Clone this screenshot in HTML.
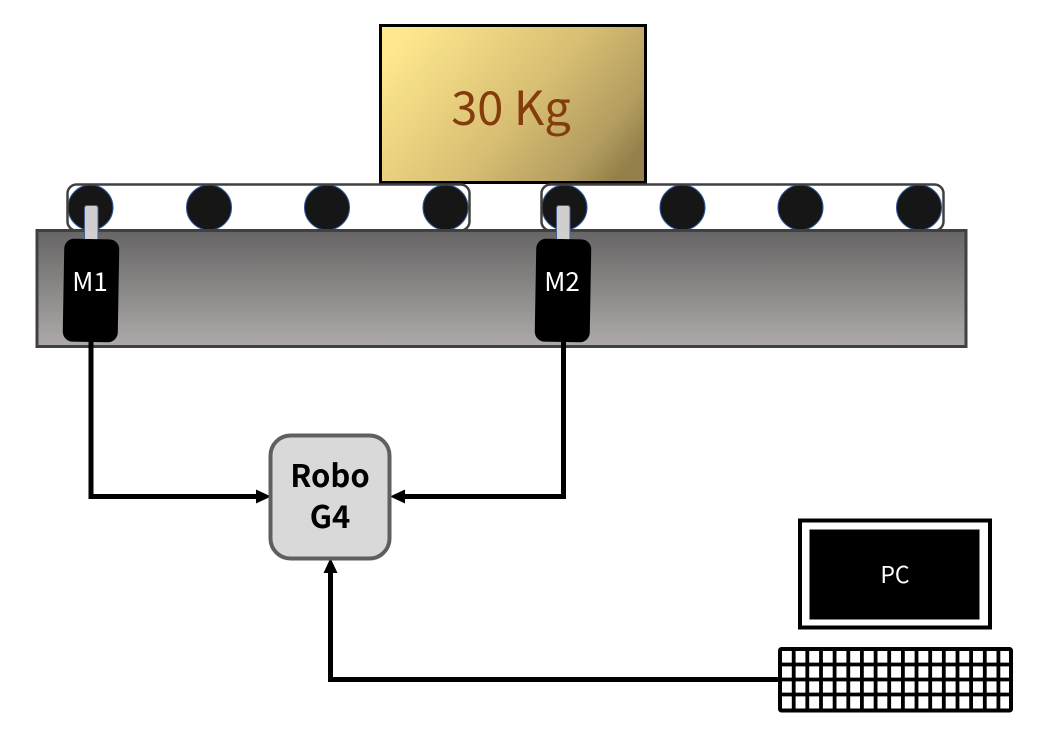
<!DOCTYPE html>
<html>
<head>
<meta charset="utf-8">
<style>
html,body{margin:0;padding:0;background:#fff;width:1049px;height:752px;overflow:hidden}
svg{display:block}
text{font-family:"Noto Sans CJK JP","Liberation Sans",sans-serif;text-anchor:middle}
</style>
</head>
<body>
<svg width="1049" height="752" viewBox="0 0 1049 752" xmlns="http://www.w3.org/2000/svg">
<defs>
<linearGradient id="gold" x1="0" y1="0.25" x2="1" y2="0.75">
<stop offset="0" stop-color="#fee78e"/>
<stop offset="0.55" stop-color="#d6bd72"/>
<stop offset="0.85" stop-color="#b39d60"/>
<stop offset="1" stop-color="#94804a"/>
</linearGradient>
<linearGradient id="base" x1="0" y1="0" x2="0" y2="1">
<stop offset="0" stop-color="#666464"/>
<stop offset="1" stop-color="#aeaaaa"/>
</linearGradient>
</defs>

<!-- load -->
<rect x="380.500" y="25.500" width="265" height="157" fill="url(#gold)" stroke="#000" stroke-width="3"/>
<text x="511" y="125" font-size="47" fill="#843c0c">30 Kg</text>

<!-- rollers -->
<g fill="#161616" stroke="#2f5597" stroke-width="1">
<circle cx="90.500" cy="207.500" r="22.500"/>
<circle cx="209" cy="207.500" r="22.500"/>
<circle cx="327" cy="207.500" r="22.500"/>
<circle cx="445.500" cy="207.500" r="22.500"/>
<circle cx="564.500" cy="207.500" r="22.500"/>
<circle cx="682.500" cy="207.500" r="22.500"/>
<circle cx="800.500" cy="207.500" r="22.500"/>
<circle cx="919" cy="207.500" r="22.500"/>
</g>
<!-- belts -->
<rect x="67.500" y="184.500" width="402" height="46" rx="9" fill="none" stroke="#404040" stroke-width="2.500"/>
<rect x="541.500" y="184.500" width="402" height="46" rx="9" fill="none" stroke="#404040" stroke-width="2.500"/>

<!-- base -->
<rect x="37" y="230.500" width="929" height="116" fill="url(#base)" stroke="#404040" stroke-width="3"/>

<!-- shafts -->
<rect x="84.500" y="205.500" width="13.500" height="36" rx="2.500" fill="#d0cece" stroke="#44608f" stroke-width="1"/>
<rect x="556.500" y="205.500" width="13.500" height="36" rx="2.500" fill="#d0cece" stroke="#44608f" stroke-width="1"/>

<!-- motors -->
<rect x="63.500" y="239" width="55" height="103" rx="10" fill="#000" transform="rotate(1 91 290.500)"/>
<rect x="535.500" y="239" width="55" height="103" rx="10" fill="#000" transform="rotate(1 563 290.500)"/>
<text x="90" y="291" font-size="26" fill="#fff">M1</text>
<text x="562" y="291" font-size="26" fill="#fff">M2</text>

<!-- connectors -->
<g fill="none" stroke="#000" stroke-width="5">
<path d="M91 342V496.500H259"/>
<path d="M563.500 342V496.500H402"/>
<path d="M779 679.500H330.500V571"/>
</g>
<g fill="#000">
<polygon points="271,496.500 256,489.500 256,503.500"/>
<polygon points="390,496.500 405,489.500 405,503.500"/>
<polygon points="330.500,558 323.500,573 337.500,573"/>
</g>

<!-- controller -->
<rect x="270.500" y="435.500" width="119" height="123" rx="20" fill="#d9d9d9" stroke="#5f5f5f" stroke-width="4"/>
<text x="330" y="487" font-size="31" font-weight="700" fill="#000">Robo</text>
<text x="330" y="528" font-size="31" font-weight="700" fill="#000">G4</text>

<!-- PC -->
<rect x="800" y="520.500" width="190" height="107" fill="#fff" stroke="#000" stroke-width="4"/>
<rect x="809.500" y="529.500" width="170" height="90" fill="#000"/>
<text x="895" y="583" font-size="23" fill="#fff">PC</text>

<!-- keyboard -->
<rect x="780" y="649" width="231" height="61.500" rx="1.500" fill="#fff" stroke="#000" stroke-width="4"/>
<path d="M780 664.500H1012M780 679.500H1012M782 694.500H1013M793.700 648V710M807.300 648V710M821 648V710M834.600 648V710M848.300 648V710M861.900 648V710M875.600 648V710M889.200 648V710M902.900 648V710M916.500 648V710M930.200 648V710M943.800 648V710M957.500 648V710M971.100 648V710M984.800 648V710M998.400 648V710" fill="none" stroke="#000" stroke-width="3.800"/>
</svg>
</body>
</html>
